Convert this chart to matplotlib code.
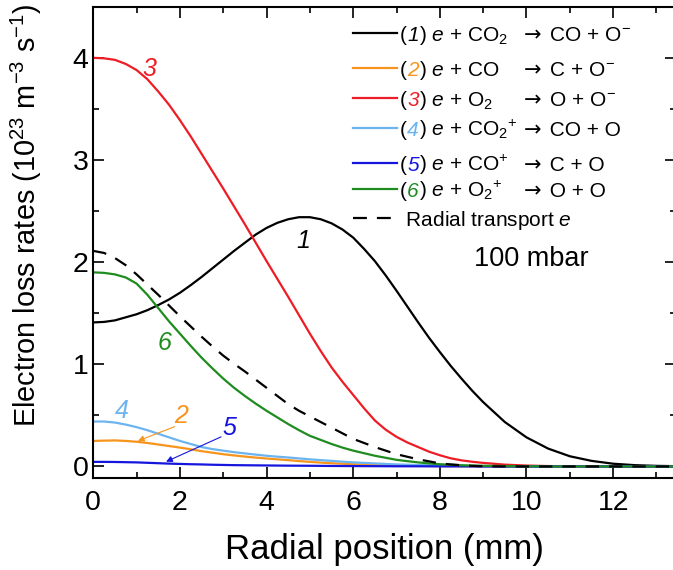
import matplotlib
matplotlib.use("Agg")
import matplotlib.pyplot as plt
from matplotlib.lines import Line2D
from matplotlib.offsetbox import AnchoredOffsetbox, DrawingArea, HPacker, TextArea

plt.rcParams['font.family'] = ['Liberation Sans', 'DejaVu Sans']
plt.rcParams['mathtext.fontset'] = 'custom'
plt.rcParams['mathtext.rm'] = 'Liberation Sans'
plt.rcParams['mathtext.it'] = 'Liberation Sans:italic'
plt.rcParams['mathtext.bf'] = 'Liberation Sans:bold'

# radial position (mm)
r = [0, 0.25, 0.5, 0.75, 1.0, 1.25, 1.5, 1.75, 2.0,
     2.25, 2.5, 2.75, 3.0, 3.25, 3.5, 3.75, 4.0,
     4.25, 4.5, 4.75, 5.0, 5.25, 5.5, 5.75, 6.0,
     6.25, 6.5, 6.75, 7.0, 7.25, 7.5, 7.75, 8.0,
     8.25, 8.5, 8.75, 9.0,
     9.5, 10, 10.5, 11, 11.5, 12, 12.5, 13, 13.5]

# electron loss rates (1e23 m^-3 s^-1)
k1 = [1.41, 1.415, 1.43, 1.46, 1.49, 1.53, 1.58, 1.635, 1.70,
      1.775, 1.855, 1.94, 2.025, 2.11, 2.19, 2.27, 2.335,
      2.385, 2.42, 2.44, 2.44, 2.42, 2.38, 2.32, 2.24,
      2.13, 2.01, 1.87, 1.72, 1.565, 1.41, 1.26, 1.12,
      0.985, 0.86, 0.74, 0.63,
      0.435, 0.285, 0.175, 0.10, 0.055, 0.027, 0.013, 0.006, 0.003]
k2 = [0.25, 0.253, 0.255, 0.25, 0.242, 0.23, 0.215, 0.20, 0.185,
      0.168, 0.15, 0.135, 0.12, 0.108, 0.097, 0.087, 0.078,
      0.07, 0.062, 0.053, 0.045, 0.038, 0.032, 0.027, 0.022,
      0.018, 0.015, 0.012, 0.01, 0.008, 0.006, 0.005, 0.004,
      0.003, 0.002, 0.0015, 0.001,
      0, 0, 0, 0, 0, 0, 0, 0, 0]
k3 = [4.00, 3.995, 3.98, 3.94, 3.88, 3.79, 3.67, 3.54, 3.39,
      3.23, 3.06, 2.89, 2.72, 2.545, 2.37, 2.19, 2.01,
      1.835, 1.66, 1.48, 1.30, 1.13, 0.97, 0.83, 0.70,
      0.57, 0.45, 0.36, 0.29, 0.235, 0.19, 0.145, 0.11,
      0.08, 0.06, 0.046, 0.035,
      0.018, 0.009, 0.004, 0.002, 0.001, 0, 0, 0, 0]
k4 = [0.44, 0.44, 0.43, 0.41, 0.385, 0.355, 0.32, 0.285, 0.25,
      0.22, 0.19, 0.17, 0.155, 0.14, 0.128, 0.116, 0.105,
      0.096, 0.088, 0.079, 0.07, 0.062, 0.055, 0.047, 0.04,
      0.035, 0.03, 0.025, 0.02, 0.017, 0.014, 0.012, 0.01,
      0.008, 0.006, 0.005, 0.004,
      0.002, 0, 0, 0, 0, 0, 0, 0, 0]
k5 = [0.045, 0.045, 0.044, 0.042, 0.04, 0.036, 0.032, 0.028, 0.025,
      0.022, 0.02, 0.017, 0.015, 0.013, 0.012, 0.011, 0.01,
      0.009, 0.008, 0.0075, 0.007, 0.006, 0.005, 0.0045, 0.004,
      0.0035, 0.003, 0.0025, 0.002, 0.002, 0.002, 0.0015, 0.001,
      0.001, 0.001, 0.0005, 0,
      0, 0, 0, 0, 0, 0, 0, 0, 0]
k6 = [1.90, 1.895, 1.88, 1.85, 1.79, 1.68, 1.55, 1.42, 1.30,
      1.18, 1.065, 0.96, 0.86, 0.77, 0.69, 0.615, 0.545,
      0.48, 0.415, 0.355, 0.30, 0.26, 0.22, 0.185, 0.155,
      0.13, 0.105, 0.085, 0.065, 0.052, 0.04, 0.03, 0.022,
      0.017, 0.012, 0.009, 0.007,
      0.004, 0.002, 0, 0, 0, 0, 0, 0, 0]
transport = [2.11, 2.09, 2.04, 1.97, 1.88, 1.78, 1.68, 1.575, 1.47,
             1.37, 1.27, 1.175, 1.085, 1.005, 0.93, 0.85, 0.77,
             0.69, 0.61, 0.545, 0.49, 0.435, 0.38, 0.325, 0.27,
             0.23, 0.19, 0.155, 0.12, 0.095, 0.07, 0.05, 0.03,
             0.02, 0.012, 0.006, 0.002,
             0, 0, 0, 0, 0, 0, 0, 0, 0]

colors = ['black', '#f7941d', '#ee1c25', '#6cb4f0', '#1515dd', '#1e8c1e']
series = [k1, k2, k3, k4, k5, k6]
nums = ['1', '2', '3', '4', '5', '6']
reactants = [r') $e$ + CO$_2$', r') $e$ + CO', r') $e$ + O$_2$',
             r') $e$ + CO$_2$$^{+}$', r') $e$ + CO$^{+}$', r') $e$ + O$_2$$^{+}$']
products = [r' CO + O$^{-}$', r' C + O$^{-}$', r' O + O$^{-}$',
            r' CO + O', r' C + O', r' O + O']
row_y = [33.3, 68.3, 98.3, 128.3, 163.3, 189.3, 218.3]  # legend rows, pixels from top

fig = plt.figure(figsize=(6.73, 5.70), dpi=100)
ax = fig.add_axes([0.1386, 0.1619, 0.8658, 0.8263])

for y, c in zip(series, colors):
    ax.plot(r, y, color=c, lw=1.6)
ax.plot(r, transport, color='black', lw=1.6, dashes=(6, 4.5))

ax.set_xlim(0, 13.45)
ax.set_ylim(-0.11, 4.5)
ax.set_xticks([0, 2, 4, 6, 8, 10, 12])
ax.set_xticks(range(0, 14), minor=True)
ax.set_yticks([0, 1, 2, 3, 4])
ax.set_yticks([0.5, 1.5, 2.5, 3.5, 4.5], minor=True)
ax.tick_params(which='both', direction='in', top=True, right=True, labelsize=20.5, width=1.2)
ax.tick_params(axis='x', pad=9)
ax.tick_params(which='major', length=8)
ax.tick_params(which='minor', length=4)
for s in ax.spines.values():
    s.set_linewidth(1.5)

ax.set_xlabel('Radial position (mm)', fontsize=25, labelpad=12)
ax.set_ylabel(r'Electron loss rates (10$^{23}$ m$^{-3}$ s$^{-1}$)', fontsize=20.8)
ax.yaxis.set_label_coords(-0.085, 0.558)

# curve numbers
ax.text(1.30, 3.89, '3', color=colors[2], fontsize=18, style='italic', ha='center', va='center')
ax.text(4.85, 2.21, '1', color=colors[0], fontsize=18, style='italic', ha='center', va='center')
ax.text(1.65, 1.21, '6', color=colors[5], fontsize=18, style='italic', ha='center', va='center')
ax.text(0.65, 0.54, '4', color=colors[3], fontsize=18, style='italic', ha='center', va='center')
ax.text(2.03, 0.49, '2', color=colors[1], fontsize=18, style='italic', ha='center', va='center')
ax.text(3.15, 0.375, '5', color=colors[4], fontsize=18, style='italic', ha='center', va='center')
ax.annotate('', xy=(1.03, 0.25), xytext=(1.88, 0.39),
            arrowprops=dict(arrowstyle='-|>', color=colors[1], lw=0.8, mutation_scale=9, shrinkA=0, shrinkB=0))
ax.annotate('', xy=(1.68, 0.047), xytext=(2.95, 0.29),
            arrowprops=dict(arrowstyle='-|>', color=colors[4], lw=0.8, mutation_scale=9, shrinkA=0, shrinkB=0))

ax.text(10.12, 2.03, '100 mbar', fontsize=19.5, ha='center', va='center')

# legend with coloured reaction numbers, arrows lined up in one column
fs = 15
renderer = fig.canvas.get_renderer()
lefts = []
for c, n, re in zip(colors, nums, reactants):
    b = HPacker(children=[TextArea('(', textprops=dict(fontsize=fs)),
                          TextArea(n, textprops=dict(fontsize=fs, color=c, style='italic')),
                          TextArea(re, textprops=dict(fontsize=fs))],
                align='baseline', pad=0, sep=0)
    b.set_figure(fig)
    lefts.append(b)
widths = [b.get_bbox(renderer).width for b in lefts]
wmax = max(widths)


def key(style, length=32):
    da = DrawingArea(32, 29, 0, 9)
    da.add_artist(Line2D([0, length], [5.5, 5.5], **style))
    return da


def place(row, ypx):
    yf = (477.7 - ypx) / 471.0
    ax.add_artist(AnchoredOffsetbox(loc='center left', child=row, pad=0, frameon=False, borderpad=0,
                                    bbox_to_anchor=(0.4457, yf), bbox_transform=ax.transAxes))


for i in range(6):
    gap = DrawingArea((wmax - widths[i]) * 72 / fig.dpi + 1, 0, 0, 0)
    row = HPacker(children=[key(dict(color=colors[i], lw=1.6)), lefts[i], gap,
                            TextArea('→', textprops=dict(fontsize=fs, family='DejaVu Sans')),
                            TextArea(products[i], textprops=dict(fontsize=fs))],
                  align='baseline', pad=0, sep=2)
    place(row, row_y[i])
row = HPacker(children=[key(dict(color='black', lw=1.6, dashes=(6.25, 4.5)), length=27.2),
                        TextArea(' Radial transport $e$', textprops=dict(fontsize=fs))],
              align='baseline', pad=0, sep=2)
place(row, row_y[6])

fig.savefig('out.png', dpi=100)
